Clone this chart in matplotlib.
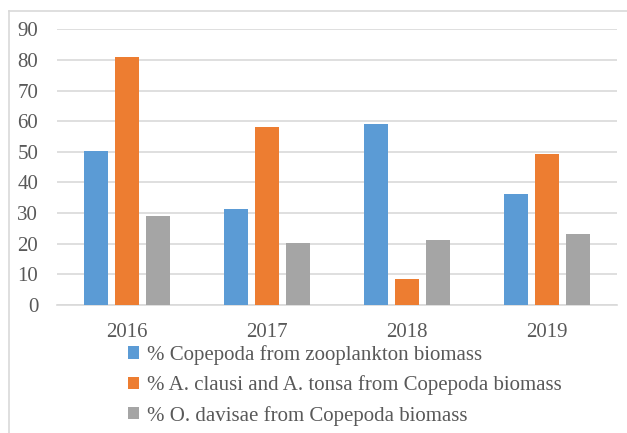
import matplotlib
matplotlib.use("Agg")
import matplotlib.pyplot as plt
from matplotlib.lines import Line2D
from matplotlib.patches import Patch
import numpy as np

years = ["2016", "2017", "2018", "2019"]
copepoda = [50.4, 31.2, 59.0, 36.3]
acartia = [80.8, 58.0, 8.4, 49.3]
oithona = [29.0, 20.2, 21.2, 23.3]
series_labels = ["% Copepoda from zooplankton biomass",
                 "% A. clausi and A. tonsa from Copepoda biomass",
                 "% O. davisae from Copepoda biomass"]
colors = ["#5B9BD5", "#ED7D31", "#A5A5A5"]
yticks = list(range(0, 100, 10))

plt.rcParams['font.family'] = ['Liberation Serif', 'DejaVu Serif']
txt = "#595959"
fs = 15

W, H = 627, 433
fig = plt.figure(figsize=(W / 100, H / 100), dpi=100)
ax = fig.add_axes([57 / W, (H - 305) / H, (617 - 57) / W, (305 - 29.3) / H])

x = np.arange(len(years))
bw = 0.175
step = 0.222
for i, (vals, c) in enumerate(zip([copepoda, acartia, oithona], colors)):
    ax.bar(x + (i - 1) * step, vals, width=bw, color=c, zorder=3)

ax.set_xlim(-0.5, 3.5)
ax.set_ylim(0, 90)
ax.set_yticks(yticks)
ax.set_yticklabels([str(t) for t in yticks], fontsize=fs, color=txt)
ax.set_xticks(x)
ax.set_xticklabels(years, fontsize=fs, color=txt)
ax.tick_params(axis='both', length=0)
ax.tick_params(axis='y', pad=13.5)
ax.tick_params(axis='x', pad=13)
ax.grid(axis='y', color="#D9D9D9", linewidth=1.2, zorder=0)
for s in ["top", "right", "left"]:
    ax.spines[s].set_visible(False)
ax.spines["bottom"].set_color("#D9D9D9")
ax.spines["bottom"].set_linewidth(1.2)

handles = [Patch(facecolor=c) for c in colors]
leg = fig.legend(handles, series_labels, loc="upper left",
                 bbox_to_anchor=(128 / W, 1 - 345 / H), frameon=False,
                 fontsize=fs, handlelength=0.55, handleheight=0.55,
                 handletextpad=0.35, labelspacing=0.5, borderpad=0, borderaxespad=0)
for t in leg.get_texts():
    t.set_color(txt)

# outer chart border (top and left visible)
fig.add_artist(Line2D([8.5 / W, 8.5 / W], [0, 1 - 10.7 / H], transform=fig.transFigure,
                      color="#D9D9D9", linewidth=1.2))
fig.add_artist(Line2D([8.5 / W, 1], [1 - 10.7 / H, 1 - 10.7 / H], transform=fig.transFigure,
                      color="#D9D9D9", linewidth=1.2))

fig.savefig("out.png", dpi=100)
